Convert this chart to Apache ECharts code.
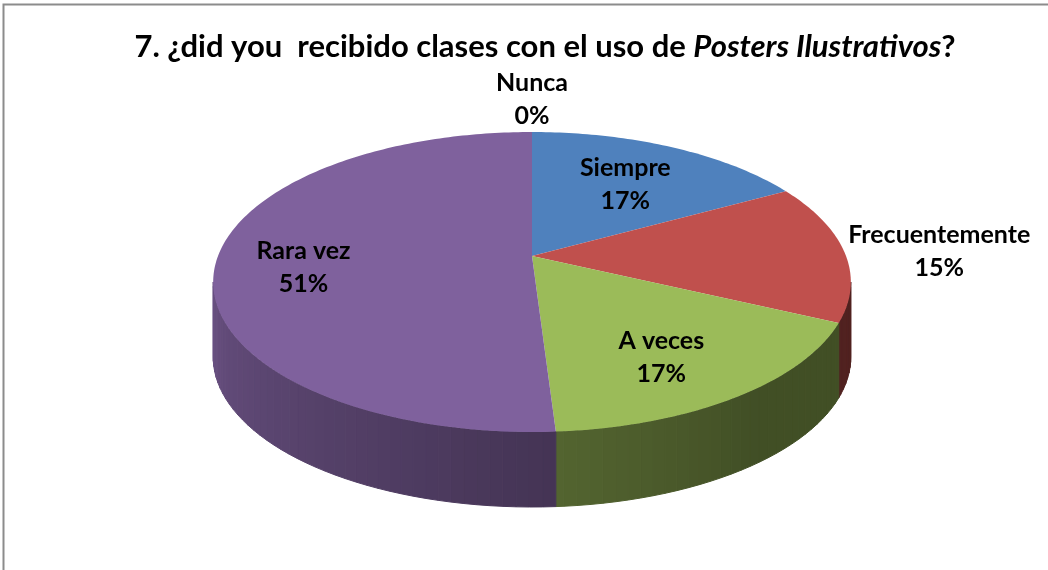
<!DOCTYPE html>
<html>
<head>
<meta charset="utf-8">
<script src="https://cdn.jsdelivr.net/npm/echarts@6/dist/echarts.min.js"></script>
<style>
  html, body { margin: 0; padding: 0; background: #fff; }
  #chart { width: 1048px; height: 570px; }
</style>
</head>
<body>
<div id="chart"></div>
<script>
// slice order as Excel draws it, clockwise from 12 o'clock
const categories = ["Siempre", "Frecuentemente", "A veces", "Rara vez", "Nunca"];
const values = [17, 15, 17, 51, 0];
const colors = ["#4f81bd", "#c0504d", "#9bbb59", "#7f619d", "#4bacc6"];

const FONT = "Lato, 'Open Sans', sans-serif";
const LABEL_FONT = "bold 25px " + FONT;

// projection of the tilted pie (perspective: back half is squashed)
const CX = 532, CY = 256, RX = 314, RY = 145.5, K = 0.1733, DEPTH = 75;
const total = values.reduce((a, b) => a + b, 0);
const starts = [];
values.reduce((acc, v, i) => { starts[i] = acc; return acc + v; }, 0);

const measureCtx = document.createElement("canvas").getContext("2d");
function textWidth(lines, font) {
  measureCtx.font = font;
  return Math.max(...lines.map((l) => measureCtx.measureText(l).width));
}

function proj(theta, f) {
  const u = Math.sin(theta) * f, v = Math.cos(theta) * f;
  const w = 1 + K * v;
  return [CX + RX * u / w, CY - RY * v / w];
}

function shade(hex, f) {
  const n = parseInt(hex.slice(1), 16);
  const r = Math.round(((n >> 16) & 255) * f);
  const g = Math.round(((n >> 8) & 255) * f);
  const b = Math.round((n & 255) * f);
  return "rgb(" + r + "," + g + "," + b + ")";
}

// the side wall is visible between the rightmost and leftmost points
const SIDE_A = Math.acos(-K), SIDE_B = 2 * Math.PI - Math.acos(-K);

function renderSlice(params, api) {
  const i = params.dataIndex;
  const v = api.value(0);
  const a = starts[i] / total * 2 * Math.PI;
  const b = (starts[i] + v) / total * 2 * Math.PI;
  const children = [];
  const step = Math.PI / 180;

  // side wall strips
  const s0 = Math.max(a, SIDE_A), s1 = Math.min(b, SIDE_B);
  for (let t = s0; t < s1; t += step * 2) {
    const t2 = Math.min(t + step * 2, s1);
    const p1 = proj(t, 1), p2 = proj(t2, 1);
    const deg = (t + t2) / 2 * 180 / Math.PI;
    const f = Math.min(0.82, Math.max(0.42, 0.38 + 0.0034 * (deg - 130)));
    const c = shade(colors[i], f);
    children.push({
      type: "polygon",
      shape: { points: [p1, p2, [p2[0], p2[1] + DEPTH], [p1[0], p1[1] + DEPTH]] },
      style: { fill: c, stroke: c, lineWidth: 1 }
    });
  }

  // top face
  if (v > 0) {
    const pts = [proj(0, 0)];
    const n = Math.max(2, Math.ceil((b - a) / step));
    for (let k = 0; k <= n; k++) pts.push(proj(a + (b - a) * k / n, 1));
    children.push({ type: "polygon", z2: 5, shape: { points: pts }, style: { fill: colors[i] } });
  }

  // label
  const mid = (a + b) / 2;
  const lines = [categories[i], Math.round(v / total * 100) + "%"];
  let lp, vAlign = "middle";
  if (v / total < 0.16) {
    lp = proj(mid, 1.0);
    const sx = Math.sin(mid);
    if (Math.abs(sx) < 0.3) {
      vAlign = Math.cos(mid) > 0 ? "bottom" : "top";
    } else {
      const half = textWidth(lines, LABEL_FONT) / 2;
      lp = [lp[0] + (sx > 0 ? 4 + half : -4 - half), lp[1]];
    }
  } else {
    lp = proj(mid, 0.7);
    lp = [lp[0] - 8, lp[1] + 8];
  }
  children.push({
    type: "text",
    z2: 10,
    style: {
      x: lp[0], y: lp[1], text: lines.join("\n"),
      align: "center", verticalAlign: vAlign,
      font: LABEL_FONT, lineHeight: 33, fill: "#000"
    }
  });
  return { type: "group", children: children };
}

const chart = echarts.init(document.getElementById("chart"));
chart.setOption({
  animation: false,
  graphic: [{
    type: "polyline",
    shape: { points: [[3.5, 570], [3.5, 4.5], [1048, 4.5]] },
    style: { stroke: "#8c8c8c", lineWidth: 2, fill: null }
  }],
  title: {
    text: "7. ¿did you  recibido clases con el uso de {i|Posters Ilustrativos}?",
    left: 540, top: 26, textAlign: "center",
    textStyle: {
      fontFamily: FONT, fontWeight: "bold", fontSize: 31, color: "#000",
      rich: { i: { fontFamily: FONT, fontWeight: "bold", fontStyle: "italic", fontSize: 31, color: "#000" } }
    }
  },
  series: [{
    type: "custom",
    coordinateSystem: "none",
    renderItem: renderSlice,
    data: values.map((v, i) => ({ name: categories[i], value: [v] }))
  }]
});
</script>
</body>
</html>
